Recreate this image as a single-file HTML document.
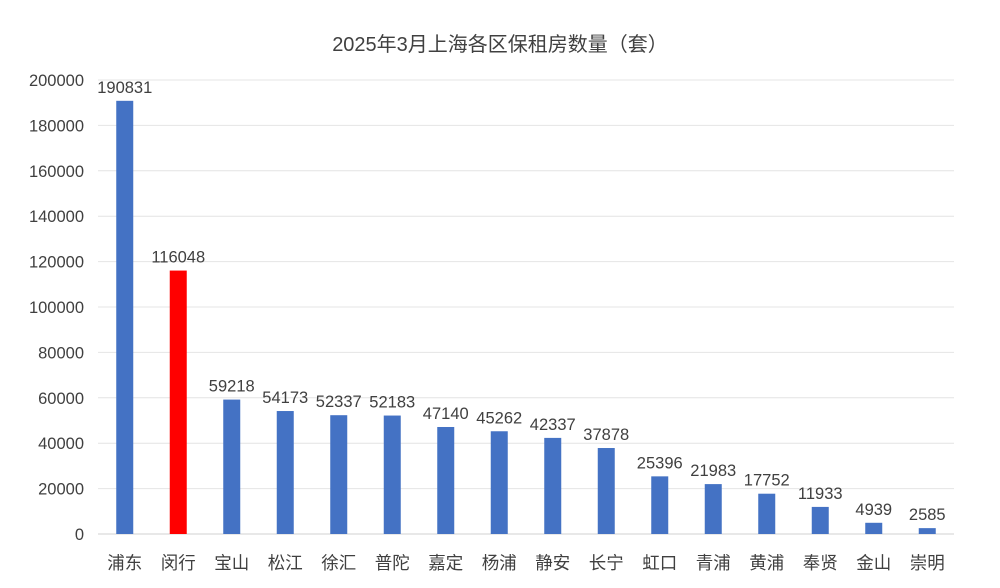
<!DOCTYPE html>
<html><head><meta charset="utf-8"><style>
body{margin:0;background:#fff}
svg text{font-family:"Liberation Sans","Noto Sans CJK SC",sans-serif;fill:#404040}
</style></head><body>
<svg id="c" width="1000" height="583"></svg>
<script>
const categories=["浦东","闵行","宝山","松江","徐汇","普陀","嘉定","杨浦","静安","长宁","虹口","青浦","黄浦","奉贤","金山","崇明"];
const values=[190831,116048,59218,54173,52337,52183,47140,45262,42337,37878,25396,21983,17752,11933,4939,2585];
const highlight=[false,true,false,false,false,false,false,false,false,false,false,false,false,false,false,false];
const yTicks=[0,20000,40000,60000,80000,100000,120000,140000,160000,180000,200000];
const svg=document.getElementById('c');const NS='http://www.w3.org/2000/svg';
const x0=98,x1=954,y0=534,y1=80,yMax=200000;
const band=(x1-x0)/categories.length;
const y=v=>y0-(v/yMax)*(y0-y1);
const xc=i=>x0+band*(i+0.5);
function mk(t,a,txt){const e=document.createElementNS(NS,t);for(const k in a)e.setAttribute(k,a[k]);if(txt!=null)e.textContent=txt;svg.appendChild(e);return e;}
let t=mk('text',{x:500,y:51,'text-anchor':'middle','font-size':20},'2025年3月上海各区保租房数量（套）');


yTicks.forEach(v=>{
 let g=mk('line',{x1:x0,x2:x1,y1:y(v),y2:y(v),stroke:v===0?'#d0d0d0':'#e4e4e4','stroke-width':1});
 
 
 let l=mk('text',{x:84,y:y(v)+6,'text-anchor':'end','font-size':16.5},String(v));
 
 
});
values.forEach((v,i)=>{
 let b=mk('rect',{x:xc(i)-8.5,y:y(v),width:17,height:y0-y(v),fill:highlight[i]?'#ff0000':'#4472c4'});
 
 
 let l=mk('text',{x:xc(i),y:y(v)-8,'text-anchor':'middle','font-size':16.5},String(v));
 
 
 let c=mk('text',{x:xc(i),y:569,'text-anchor':'middle','font-size':17.5},categories[i]);
 
 
});
</script>
</body></html>
